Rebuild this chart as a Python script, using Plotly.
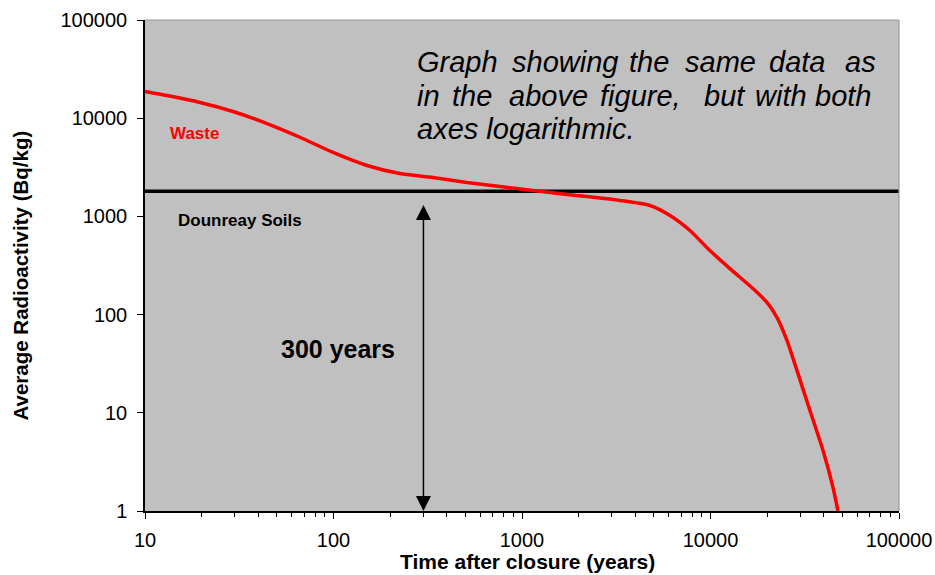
import math
import plotly.graph_objects as go

# ---- data ----
waste_years = [10, 13.1, 19.6, 29.3, 44.4, 66.4, 99.4, 150.6, 225, 337, 510, 764,
               1143, 1733, 3311, 4775, 6100, 7780, 9930, 12680, 16800, 19940,
               22540, 25470, 28770, 33730, 39540, 44670, 47450]
waste_activity = [18700, 17000, 14450, 11700, 8830, 6400, 4480, 3300, 2735, 2490,
                  2215, 2018, 1837, 1672, 1452, 1291, 1021, 718, 449, 294, 184,
                  133, 93.3, 54.4, 26.9, 10.5, 4.12, 1.73, 1.0]
soil_years = [10, 100000]
soil_activity = [1800, 1800]
arrow_years = 300
arrow_top = 1352
arrow_bottom = 1
x_tick_vals = [10, 100, 1000, 10000, 100000]
x_tick_text = ["10", "100", "1000", "10000", "100000"]
y_tick_vals = [1, 10, 100, 1000, 10000, 100000]
y_tick_text = ["1", "10", "100", "1000", "10000", "100000"]
x_title = "Time after closure (years)"
y_title = "Average Radioactivity (Bq/kg)"
note_line1 = ["Graph", "showing", "the", "same", "data", "as"]
note_line2 = ["in", "the", "above", "figure,", "but", "with", "both"]
note_line3 = "axes logarithmic."

# ---- layout helpers ----
W, H = 935, 575
ML, MR, MT, MB = 145, 36, 20, 64
PW, PH = W - ML - MR, H - MT - MB


def px(x):
    return (x - ML) / PW


def py(y):
    return (H - MB - y) / PH


FONT = "Liberation Sans, Arial, sans-serif"

fig = go.Figure()
fig.add_trace(go.Scatter(x=soil_years, y=soil_activity, mode="lines",
                         line=dict(color="black", width=3.5),
                         name="Dounreay Soils", showlegend=False, hoverinfo="skip"))
fig.add_trace(go.Scatter(x=waste_years, y=waste_activity, mode="lines",
                         line=dict(color="#FF0000", width=3.5, shape="spline", smoothing=0.6),
                         name="Waste", showlegend=False))

ann = []
# double-headed arrow
ann.append(dict(x=math.log10(arrow_years), y=math.log10(arrow_bottom), xref="x", yref="y",
                ax=math.log10(arrow_years), ay=math.log10(arrow_top), axref="x", ayref="y",
                text="", showarrow=True, arrowhead=2, startarrowhead=2,
                arrowside="end+start", arrowsize=2, startarrowsize=2,
                arrowwidth=1.5, arrowcolor="black"))
ann.append(dict(x=px(338), y=py(349), xref="paper", yref="paper", text="<b>300 years</b>",
                showarrow=False, font=dict(family=FONT, size=25, color="black"),
                xanchor="center", yanchor="middle"))
ann.append(dict(x=px(168), y=py(133), xref="paper", yref="paper", text="<b>Waste</b>",
                showarrow=False, font=dict(family=FONT, size=17, color="#FF0000"),
                xanchor="left", yanchor="middle"))
ann.append(dict(x=px(176), y=py(220), xref="paper", yref="paper", text="<b>Dounreay Soils</b>",
                showarrow=False, font=dict(family=FONT, size=17, color="black"),
                xanchor="left", yanchor="middle"))
# axis titles
ann.append(dict(x=px(527), y=py(561.5), xref="paper", yref="paper", text="<b>%s</b>" % x_title,
                showarrow=False, font=dict(family=FONT, size=21, color="black"),
                xanchor="center", yanchor="middle"))
ann.append(dict(x=px(20), y=py(275.5), xref="paper", yref="paper", text="<b>%s</b>" % y_title,
                showarrow=False, textangle=-90, font=dict(family=FONT, size=20.5, color="black"),
                xanchor="center", yanchor="middle"))

NOTE_SIZE = 29
line1_left = [415, 510, 627, 683, 767, 843]
line2_left = [415, 450, 507, 598, 702, 753, 813]
line_centres = [62, 96, 129]
for w, lx in zip(note_line1, line1_left):
    ann.append(dict(x=px(lx), y=py(line_centres[0]), xref="paper", yref="paper",
                    text="<i>%s</i>" % w, showarrow=False,
                    font=dict(family=FONT, size=NOTE_SIZE, color="black"),
                    xanchor="left", yanchor="middle"))
for w, lx in zip(note_line2, line2_left):
    ann.append(dict(x=px(lx), y=py(line_centres[1]), xref="paper", yref="paper",
                    text="<i>%s</i>" % w, showarrow=False,
                    font=dict(family=FONT, size=NOTE_SIZE, color="black"),
                    xanchor="left", yanchor="middle"))
ann.append(dict(x=px(415), y=py(line_centres[2]), xref="paper", yref="paper",
                text="<i>%s</i>" % note_line3, showarrow=False,
                font=dict(family=FONT, size=NOTE_SIZE, color="black"),
                xanchor="left", yanchor="middle"))

shapes = [
    dict(type="line", xref="paper", yref="paper", x0=0, x1=1, y0=1, y1=1,
         line=dict(color="#999999", width=1.2)),
    dict(type="line", xref="paper", yref="paper", x0=1, x1=1, y0=0, y1=1,
         line=dict(color="#999999", width=1.2)),
]

fig.update_layout(
    width=W, height=H, autosize=False,
    margin=dict(l=ML, r=MR, t=MT, b=MB, pad=0, autoexpand=False),
    paper_bgcolor="white", plot_bgcolor="#C0C0C0",
    font=dict(family=FONT, color="black"),
    annotations=ann, shapes=shapes, showlegend=False,
)
fig.update_xaxes(type="log", range=[1, 5], tickvals=x_tick_vals, ticktext=x_tick_text,
                 automargin=False,
                 ticks="outside", ticklen=6, tickwidth=1, tickcolor="black",
                 ticklabelstandoff=4,
                 showline=True, linecolor="black", linewidth=1.5, showgrid=False, zeroline=False,
                 tickfont=dict(family=FONT, size=20, color="black"),
                 minor=dict(ticks="outside", ticklen=4, tickwidth=1, tickcolor="black",
                            dtick="D1", showgrid=False))
fig.update_yaxes(type="log", range=[0, 5], tickvals=y_tick_vals, ticktext=y_tick_text,
                 automargin=False,
                 ticks="outside", ticklen=6, tickwidth=1, tickcolor="black",
                 ticklabelstandoff=6,
                 showline=True, linecolor="black", linewidth=1.5, showgrid=False, zeroline=False,
                 tickfont=dict(family=FONT, size=20, color="black"))

fig.write_html("out.html", config={"displayModeBar": False},
               post_script="document.body.style.margin='0';")
